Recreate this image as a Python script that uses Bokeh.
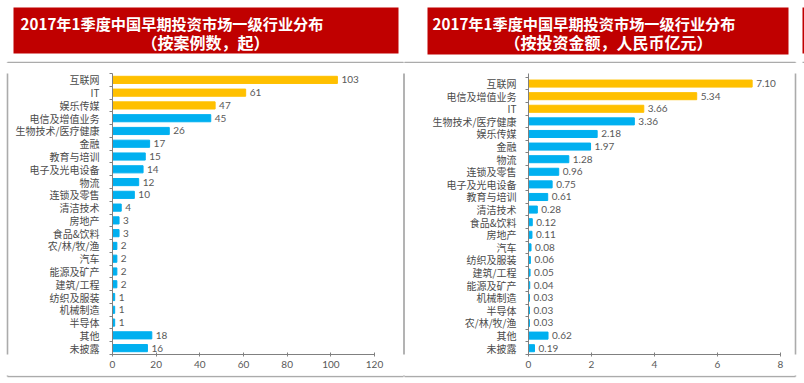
from bokeh.plotting import figure
from bokeh.models import Range1d, ColumnDataSource, FixedTicker
from bokeh.layouts import row, column
from bokeh.embed import file_html
from bokeh.resources import INLINE
from bokeh.core.properties import value

# ---- data ----
cats_cases = ["互联网", "IT", "娱乐传媒", "电信及增值业务", "生物技术/医疗健康", "金融", "教育与培训",
              "电子及光电设备", "物流", "连锁及零售", "清洁技术", "房地产", "食品&饮料", "农/林/牧/渔",
              "汽车", "能源及矿产", "建筑/工程", "纺织及服装", "机械制造", "半导体", "其他", "未披露"]
vals_cases = [103, 61, 47, 45, 26, 17, 15, 14, 12, 10, 4, 3, 3, 2, 2, 2, 2, 1, 1, 1, 18, 16]

cats_amount = ["互联网", "电信及增值业务", "IT", "生物技术/医疗健康", "娱乐传媒", "金融", "物流",
               "连锁及零售", "电子及光电设备", "教育与培训", "清洁技术", "食品&饮料", "房地产", "汽车",
               "纺织及服装", "建筑/工程", "能源及矿产", "机械制造", "半导体", "农/林/牧/渔", "其他", "未披露"]
vals_amount = [7.10, 5.34, 3.66, 3.36, 2.18, 1.97, 1.28, 0.96, 0.75, 0.61, 0.28, 0.12, 0.11, 0.08,
               0.06, 0.05, 0.04, 0.03, 0.03, 0.03, 0.62, 0.19]

x_ticks_cases = [0, 20, 40, 60, 80, 100, 120]
x_ticks_amount = [0, 2, 4, 6, 8]

title_line1 = "2017年1季度中国早期投资市场一级行业分布"
title_cases = "（按案例数，起）"
title_amount = "（按投资金额，人民币亿元）"

ORANGE = "#FFC000"
BLUE = "#00B0F0"
RED = "#C00000"
TXT = "#4a4a4a"
VTXT = "#595959"
AXIS = "#808080"
BOX = "#ababab"
CJK = "Noto Sans CJK SC"
NUM = "Lato"

W, H = 804, 383
TOP_H, BOT_H = 63, 10
MID_H = H - TOP_H - BOT_H


def blank(width, height, x0, y0):
    """A helper figure whose frame fills the canvas, in page pixel coordinates."""
    p = figure(width=width, height=height, output_backend="svg", toolbar_location=None,
               x_range=Range1d(x0, x0 + width), y_range=Range1d(y0 + height, y0),
               x_axis_location=None, y_axis_location=None, min_border=0)
    p.outline_line_color = None
    p.grid.visible = False
    p.background_fill_color = "white"
    p.border_fill_color = "white"
    return p


def chart(width, cats, vals, labels, n_orange, xticks, bl, br, y_end, standoff):
    n = len(cats)
    ypos = [n - i - 0.5 for i in range(n)]
    p = figure(width=width, height=MID_H, output_backend="svg", toolbar_location=None,
               x_range=Range1d(xticks[0], xticks[-1]), y_range=Range1d(0, y_end),
               min_border_left=bl, min_border_right=br, min_border_top=10, min_border_bottom=19)
    p.outline_line_color = None
    p.background_fill_color = "white"
    p.border_fill_color = "white"
    p.xgrid.grid_line_color = None
    p.ygrid.grid_line_color = None

    colors = [ORANGE if i < n_orange else BLUE for i in range(n)]
    src = ColumnDataSource(dict(y=ypos, val=vals, lab=labels, color=colors))
    p.hbar(y="y", right="val", left=0, height=0.56, color="color", source=src)
    p.text(x="val", y="y", text="lab", source=src, x_offset=4,
           text_align="left", text_baseline="middle", text_font_size="10px",
           text_color=VTXT, text_font=value(NUM))

    xa = p.xaxis[0]
    xa.ticker = FixedTicker(ticks=xticks)
    xa.axis_line_color = AXIS
    xa.major_tick_line_color = AXIS
    xa.minor_tick_line_color = None
    xa.major_tick_in = 2
    xa.major_tick_out = 2
    xa.major_label_standoff = 4
    xa.major_label_text_font_size = "10px"
    xa.major_label_text_color = VTXT
    xa.major_label_text_font = NUM

    ya = p.yaxis[0]
    ya.ticker = FixedTicker(ticks=ypos, minor_ticks=list(range(n + 1)))
    ya.major_label_overrides = {y: c for y, c in zip(ypos, cats)}
    ya.axis_line_color = AXIS
    ya.major_tick_line_color = None
    ya.major_tick_in = 0
    ya.major_tick_out = 0
    ya.minor_tick_line_color = AXIS
    ya.minor_tick_in = 0
    ya.minor_tick_out = 3
    ya.major_label_standoff = standoff
    ya.major_label_text_font_size = "10px"
    ya.major_label_text_color = TXT
    ya.major_label_text_font = CJK
    return p


# ---- top strip: banners and titles ----
top = blank(W, TOP_H, 0, 0)
top.quad(left=[13, 427, 802], right=[398, 788, 806], top=[7, 7, 7], bottom=[53, 54, 53],
         color=RED, line_color=None)
top.text(x=[20, 432], y=[22.5, 22.5], text=[title_line1, title_line1],
         text_color="white", text_font_style="bold", text_font_size="15.2px",
         text_font=value(CJK), text_align="left", text_baseline="middle")
top.text(x=[205, 608], y=[41.5, 41.5], text=[title_cases, title_amount],
         text_color="white", text_font_style="bold", text_font_size="16px",
         text_font=value(CJK), text_align="center", text_baseline="middle")
top.segment(x0=[7, 404, 802], y0=[62, 62, 62], x1=[403, 795, 806], y1=[62, 62, 62],
            line_color=BOX, line_width=1.6)
top.segment(x0=[7, 403.5, 795], y0=[62, 62, 62], x1=[7, 403.5, 795], y1=[64, 64, 64],
            line_color=BOX, line_width=1.6)

# ---- middle row: box edges and charts ----
e1 = blank(9, MID_H, 0, TOP_H)
e1.segment(x0=[7], y0=[TOP_H - 1], x1=[7], y1=[TOP_H + MID_H + 1], line_color=BOX, line_width=1.6)
left = chart(393, cats_cases, vals_cases, [str(v) for v in vals_cases], 3, x_ticks_cases,
             103, 28, 22.0, 10)
e2 = blank(4, MID_H, 402, TOP_H)
e2.segment(x0=[403.5], y0=[TOP_H - 1], x1=[403.5], y1=[TOP_H + MID_H + 1], line_color=BOX, line_width=1.8)
right = chart(387, cats_amount, vals_amount, [f"{v:.2f}" for v in vals_amount], 3, x_ticks_amount,
              122, 13, 22.3, 9)
e3 = blank(11, MID_H, 793, TOP_H)
e3.segment(x0=[795], y0=[TOP_H - 1], x1=[795], y1=[TOP_H + MID_H + 1], line_color=BOX, line_width=1.6)

# ---- bottom strip ----
bot = blank(W, BOT_H, 0, TOP_H + MID_H)
bot.segment(x0=[7, 404], y0=[374, 374], x1=[403, 795], y1=[374, 374], line_color=BOX, line_width=1.6)
bot.segment(x0=[7, 403.5, 795], y0=[372, 372, 372], x1=[7, 403.5, 795], y1=[374, 374, 374],
            line_color=BOX, line_width=1.6)

layout = column(top, row(e1, left, e2, right, e3), bot)
open("out.html", "w").write(file_html(layout, INLINE))
